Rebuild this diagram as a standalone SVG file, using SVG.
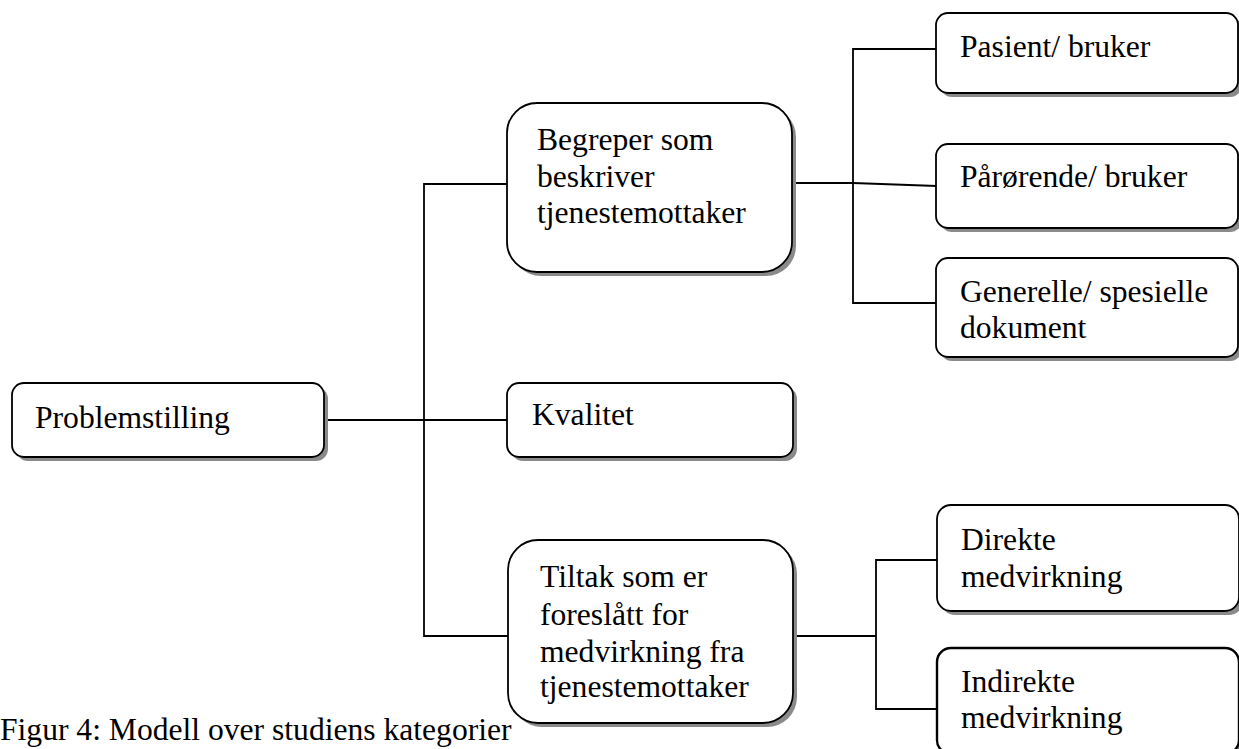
<svg xmlns="http://www.w3.org/2000/svg" width="1239" height="749" viewBox="0 0 1239 749">
<style>
.box{fill:#fff;stroke:#000;stroke-width:1.8}
.sh{fill:#8a8a8a}
.t{font-family:"Liberation Serif","Times New Roman",serif;font-size:31.6px;fill:#000}
.c{fill:none;stroke:#000;stroke-width:1.8}
</style>
<rect width="1239" height="749" fill="#fff"/>
<g id="connectors">
<polyline class="c" points="324,420 508,420"/>
<polyline class="c" points="508,184 424,184 424,636 508,636"/>
<polyline class="c" points="792,183 853,183 937,186"/>
<polyline class="c" points="937,49 853,49 853,303 937,303"/>
<polyline class="c" points="793,636 876,636"/>
<polyline class="c" points="937,560 876,560 876,709 937,709"/>
</g>
<g id="n-problemstilling">
<rect class="sh" x="16" y="387" width="312" height="74" rx="12"/>
<rect class="box" x="12" y="383" width="312" height="74" rx="12"/>
<text class="t" x="35" y="428">Problemstilling</text>
</g>
<g id="n-begreper">
<rect class="sh" x="511" y="107" width="285" height="169" rx="30"/>
<rect class="box" x="507" y="103" width="285" height="169" rx="30"/>
<text class="t" x="537" y="150">Begreper som</text>
<text class="t" x="537" y="187">beskriver</text>
<text class="t" x="537" y="223">tjenestemottaker</text>
</g>
<g id="n-kvalitet">
<rect class="sh" x="511" y="387" width="286" height="74" rx="12"/>
<rect class="box" x="507" y="383" width="286" height="74" rx="12"/>
<text class="t" x="532" y="425">Kvalitet</text>
</g>
<g id="n-tiltak">
<rect class="sh" x="512" y="544" width="285" height="183" rx="30"/>
<rect class="box" x="508" y="540" width="285" height="183" rx="30"/>
<text class="t" x="540" y="587">Tiltak som er</text>
<text class="t" x="540" y="625">foreslått for</text>
<text class="t" x="540" y="662">medvirkning fra</text>
<text class="t" x="540" y="697">tjenestemottaker</text>
</g>
<g id="n-pasient">
<rect class="sh" x="940" y="17" width="302" height="80" rx="12"/>
<rect class="box" x="936" y="13" width="302" height="80" rx="12"/>
<text class="t" x="960" y="57">Pasient/ bruker</text>
</g>
<g id="n-parorende">
<rect class="sh" x="940" y="148" width="302" height="84" rx="12"/>
<rect class="box" x="936" y="144" width="302" height="84" rx="12"/>
<text class="t" x="960" y="187">Pårørende/ bruker</text>
</g>
<g id="n-generelle">
<rect class="sh" x="940" y="262" width="302" height="99" rx="12"/>
<rect class="box" x="936" y="258" width="302" height="99" rx="12"/>
<text class="t" x="960" y="302">Generelle/ spesielle</text>
<text class="t" x="960" y="338">dokument</text>
</g>
<g id="n-direkte">
<rect class="sh" x="941" y="509" width="302" height="106" rx="14"/>
<rect class="box" x="937" y="505" width="302" height="106" rx="14"/>
<text class="t" x="961" y="550">Direkte</text>
<text class="t" x="961" y="587">medvirkning</text>
</g>
<g id="n-indirekte">
<rect class="sh" x="941" y="652" width="302" height="106" rx="14"/>
<rect class="box" x="937" y="648" width="302" height="106" rx="14" style="stroke-width:2.4"/>
<text class="t" x="961" y="692">Indirekte</text>
<text class="t" x="961" y="728">medvirkning</text>
</g>
<text id="caption" class="t" x="0" y="740">Figur 4: Modell over studiens kategorier</text>
</svg>
